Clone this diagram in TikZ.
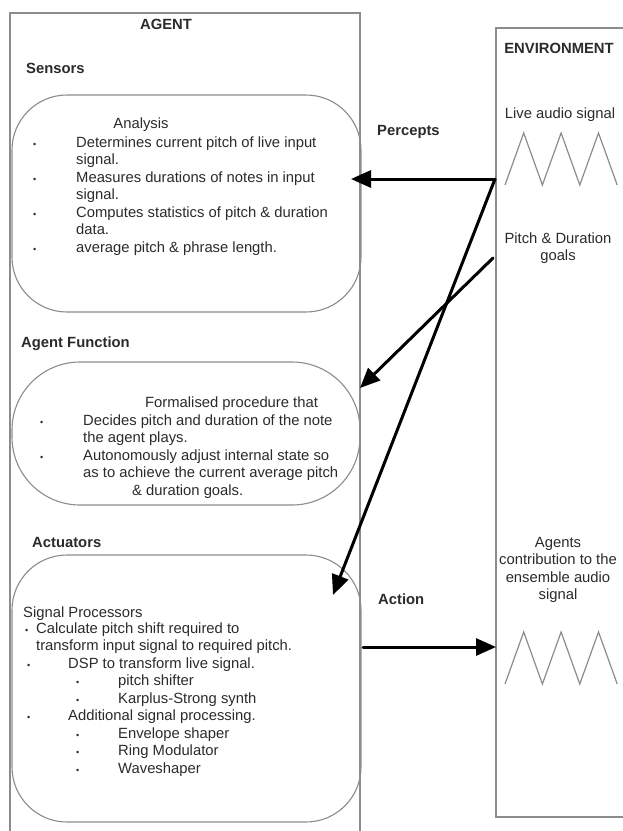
\documentclass[tikz,border=0pt]{standalone}
\usepackage{fontspec}
\setmainfont{Liberation Sans}
\usetikzlibrary{arrows.meta}
\definecolor{frameGray}{HTML}{8C8C8C}
\definecolor{inkGray}{HTML}{2B2B2B}
\newcommand{\blt}{{\fontsize{9}{9}\selectfont •}}

\begin{document}
\begin{tikzpicture}[x=1pt, y=-1pt,
    frame/.style={draw=frameGray, line width=1.3pt, inner sep=0pt, outer sep=0pt, anchor=north west},
    bubble/.style={frame, line width=1.1pt},
    txt/.style={text=inkGray, inner sep=0pt, font=\fontsize{14.8}{17.5}\selectfont},
    head/.style={txt, font=\fontsize{14.8}{17.5}\selectfont\bfseries},
    flow/.style={line width=3pt, line cap=round, -{Triangle[length=20pt,width=17pt]}},
    wave/.style={frameGray, line width=1.2pt}]
    \useasboundingbox (0,0) rectangle (623,831);
    \fill[white] (0,0) rectangle (623,831);

    \node[frame, minimum width=350pt, minimum height=840pt] (agent) at (10,13) {};
    \node[frame, minimum width=129pt, minimum height=789pt] (env) at (496,28) {};
    \node[bubble, rounded corners=55pt, minimum width=349pt, minimum height=217pt] (sensors) at (12,95) {};
    \node[bubble, rounded corners=68pt, minimum width=348pt, minimum height=143pt] (function) at (12,362) {};
    \node[bubble, rounded corners=55pt, minimum width=349pt, minimum height=267pt] (actuators) at (12,555) {};

    \node[head, anchor=base] (agentTitle) at (166,29) {AGENT};
    \node[head, anchor=base west] (sensLabel) at (26,73) {Sensors};
    \node[head, anchor=base west] (funcLabel) at (21,347) {Agent Function};
    \node[head, anchor=base west] (actLabel) at (32,547) {Actuators};
    \node[head, anchor=base west] (perceptsLabel) at (377,135) {Percepts};
    \node[head, anchor=base west] (actionLabel) at (378,604) {Action};
    \node[head, anchor=base] (envTitle) at (559,53) {ENVIRONMENT};

    \node[txt, anchor=base] (anaTitle) at (141,128) {Analysis};
    \node[txt, anchor=base west] (anaText) at (33,147) {\begin{tabular}[t]{@{}l@{}}
        \makebox[43pt][l]{\blt}Determines current pitch of live input\\
        \hspace*{43pt}signal.\\
        \makebox[43pt][l]{\blt}Measures durations of notes in input\\
        \hspace*{43pt}signal.\\
        \makebox[43pt][l]{\blt}Computes statistics of pitch \& duration\\
        \hspace*{43pt}data.\\
        \makebox[43pt][l]{\blt}average pitch \& phrase length.
    \end{tabular}};

    \node[txt, anchor=base west] (funcTitle) at (145,407) {Formalised procedure that};
    \node[txt, anchor=base west] (funcText) at (40,425) {\begin{tabular}[t]{@{}l@{}}
        \makebox[43pt][l]{\blt}Decides pitch and duration of the note\\
        \hspace*{43pt}the agent plays.\\
        \makebox[43pt][l]{\blt}Autonomously adjust internal state so\\
        \hspace*{43pt}as to achieve the current average pitch\\
        \hspace*{92pt}\& duration goals.
    \end{tabular}};

    \node[txt, anchor=base west] (sigTitle) at (23,617) {Signal Processors};
    \node[txt, anchor=base west] (sigText) at (25,633) {\begin{tabular}[t]{@{}l@{}}
        \makebox[11pt][l]{\blt}Calculate pitch shift required to\\
        \hspace*{11pt}transform input signal to required pitch.\\
        \hspace*{2pt}\makebox[41pt][l]{\blt}DSP to transform live signal.\\
        \hspace*{51pt}\makebox[42pt][l]{\blt}pitch shifter\\
        \hspace*{51pt}\makebox[42pt][l]{\blt}Karplus-Strong synth\\
        \hspace*{2pt}\makebox[41pt][l]{\blt}Additional signal processing.\\
        \hspace*{51pt}\makebox[42pt][l]{\blt}Envelope shaper\\
        \hspace*{51pt}\makebox[42pt][l]{\blt}Ring Modulator\\
        \hspace*{51pt}\makebox[42pt][l]{\blt}Waveshaper
    \end{tabular}};

    \node[txt, anchor=base] (liveLabel) at (560,118) {Live audio signal};
    \node[txt, anchor=base] (goalsLabel) at (558,243) {\begin{tabular}[t]{@{}c@{}}
        Pitch \& Duration\\ goals\end{tabular}};
    \node[txt, anchor=base] (outLabel) at (558,547) {\begin{tabular}[t]{@{}c@{}}
        Agents\\ contribution to the\\ ensemble audio\\ signal\end{tabular}};

    \foreach \y in {185,684}
        \draw[wave] (505,\y) -- ++(18.7,-52) -- ++(18.7,52) -- ++(18.7,-52)
            -- ++(18.7,52) -- ++(18.7,-52) -- ++(18.7,52);

    \coordinate (liveOut) at (495,179);
    \coordinate (goalsOut) at (493,258);
    \coordinate (sensIn) at (351,179);
    \coordinate (funcIn) at (360,388);
    \coordinate (actIn) at (333,595);
    \coordinate (actOut) at (363,647);
    \draw[flow] (liveOut) -- (sensIn);
    \draw[flow] (liveOut) -- (actIn);
    \draw[flow] (goalsOut) -- (funcIn);
    \draw[flow] (actOut) -- (env.west |- actOut);
\end{tikzpicture}
\end{document}
